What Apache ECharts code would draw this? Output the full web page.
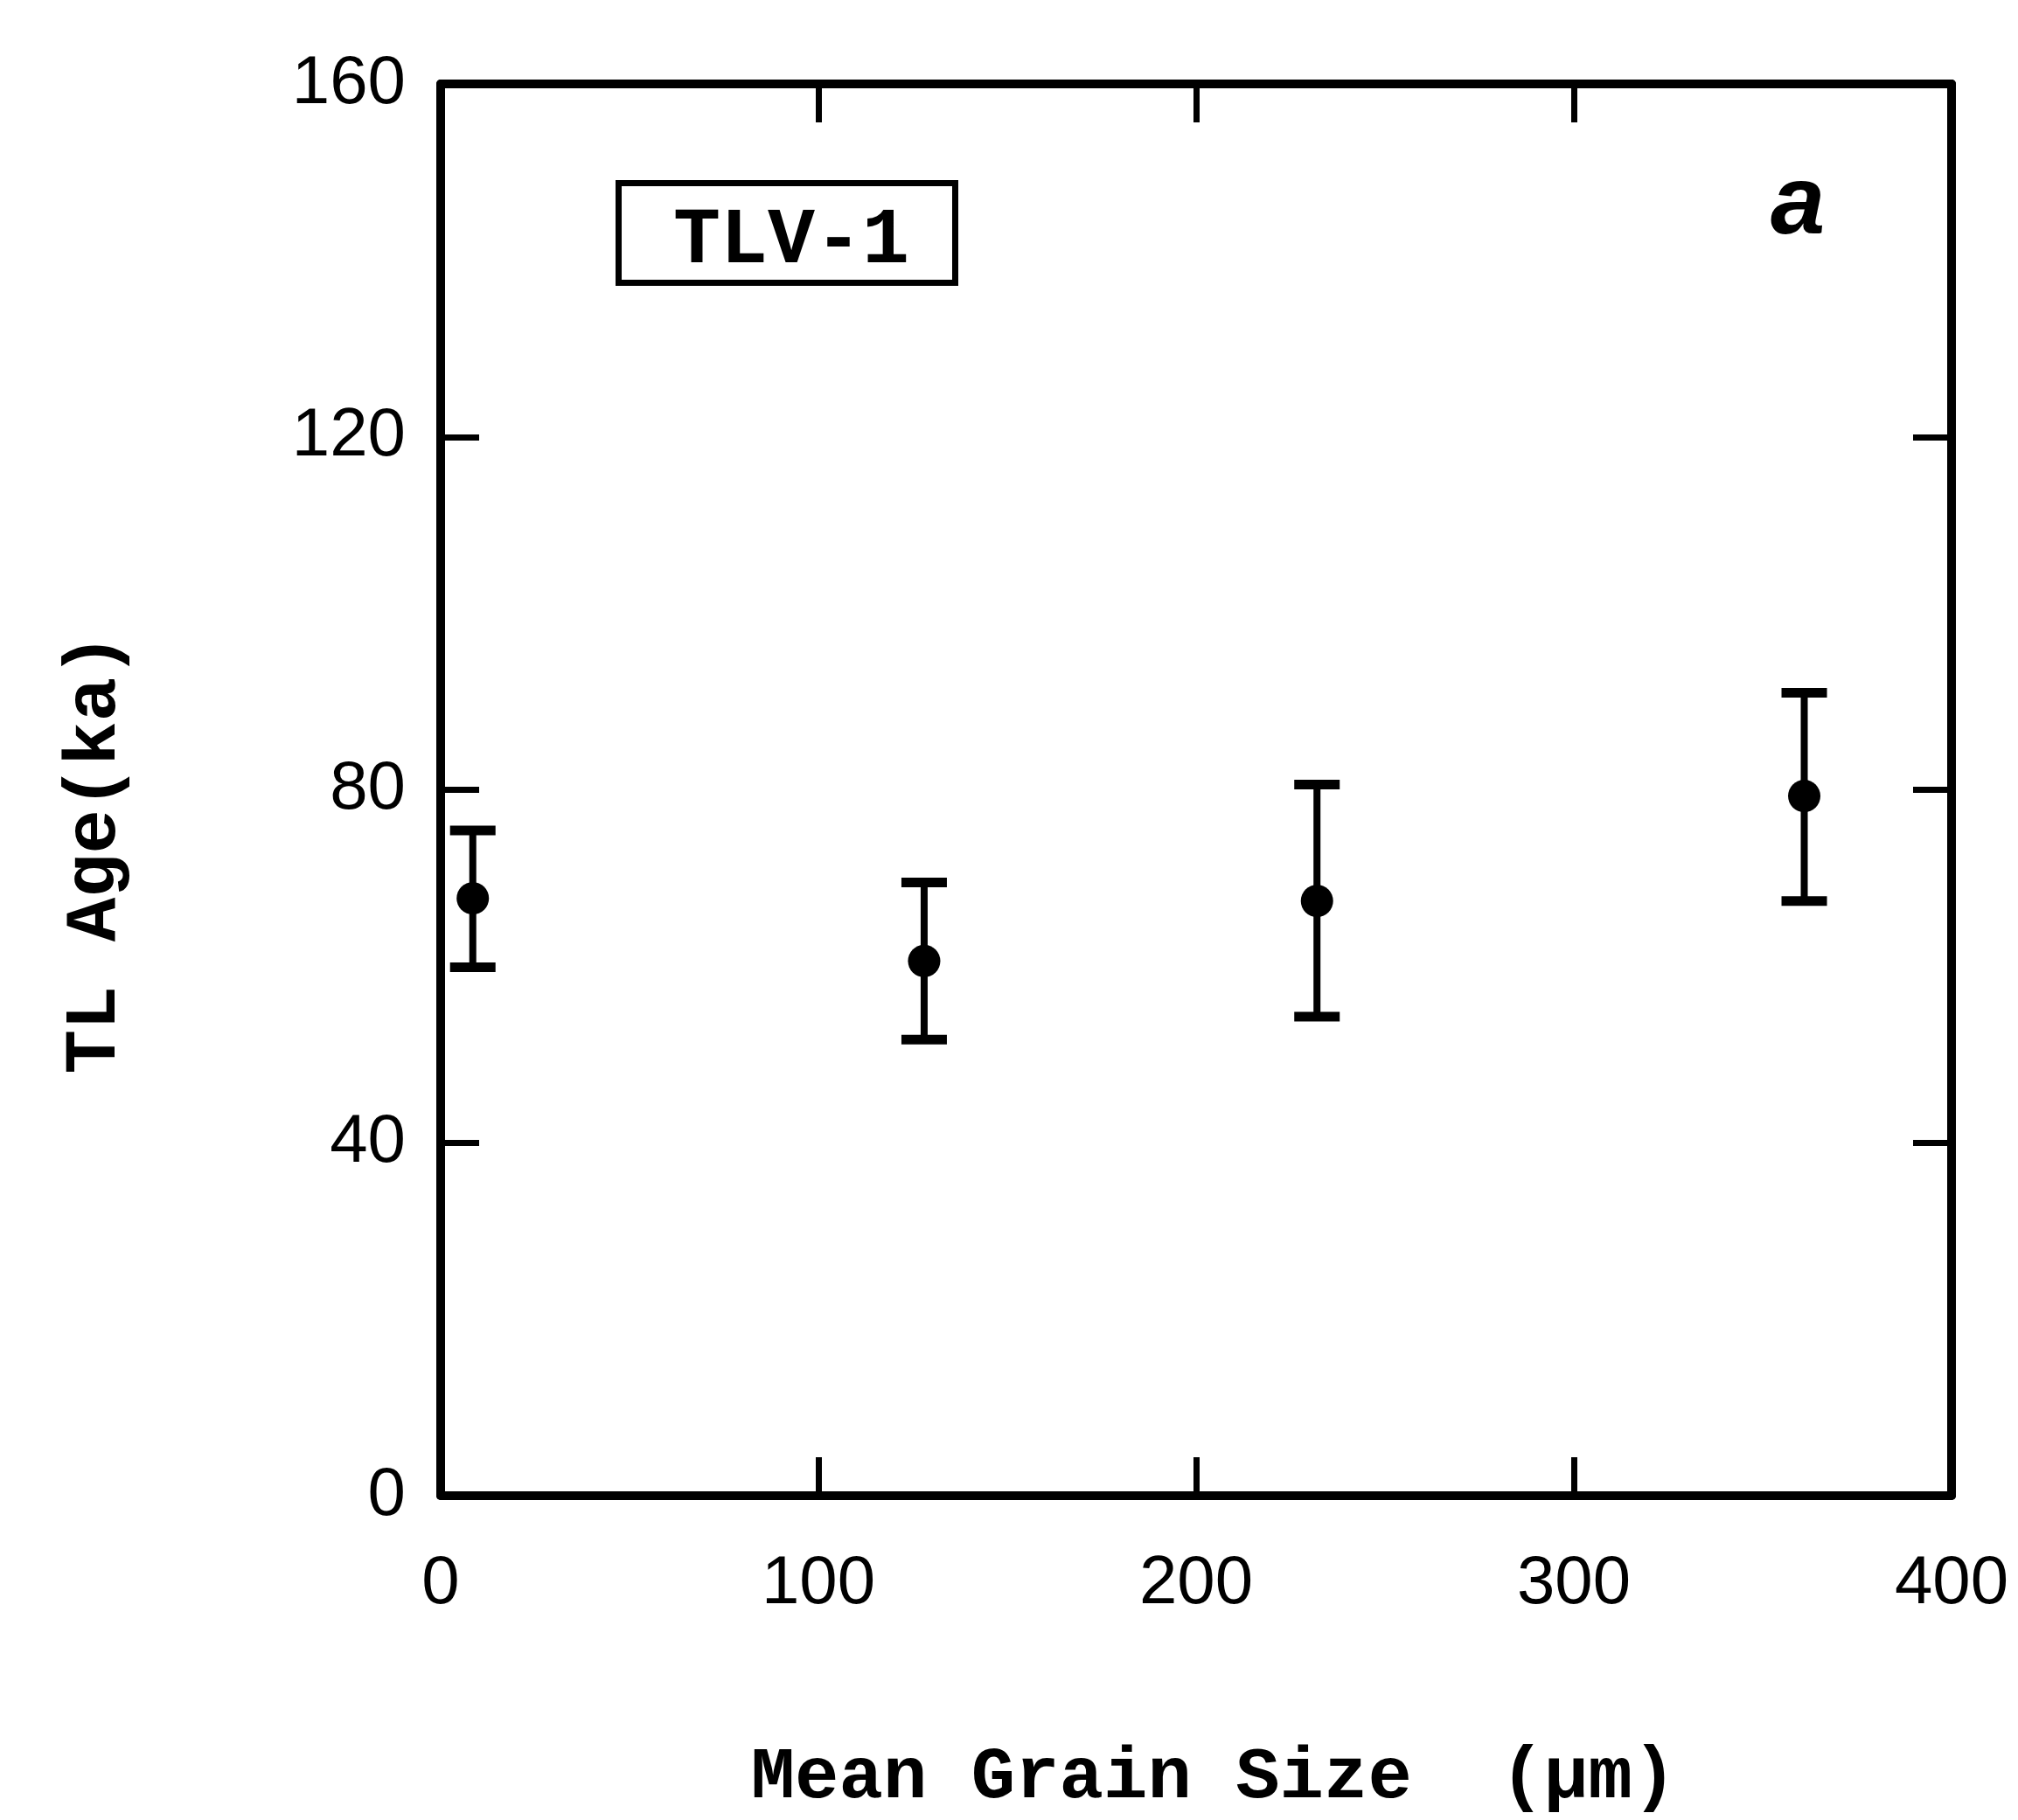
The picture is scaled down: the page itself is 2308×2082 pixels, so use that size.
<!DOCTYPE html>
<html>
<head>
<meta charset="utf-8">
<script src="https://cdn.jsdelivr.net/npm/echarts@6/dist/echarts.min.js"></script>
<style>
html,body{margin:0;padding:0;background:#fff;overflow:hidden;}
#chart{width:2308px;height:2082px;}
</style>
</head>
<body>
<div id="chart"></div>
<script>
// Data
const grainSize = [8.5, 128, 232, 361];        // Mean grain size (µm)
const tlAge     = [67.7, 60.6, 67.4, 79.3];    // TL age (ka)
const ageLow    = [59.9, 51.7, 54.3, 67.4];    // lower error bound
const ageHigh   = [75.4, 69.5, 80.6, 91.0];    // upper error bound
const xTicks = [0, 100, 200, 300, 400];
const yTicks = [0, 40, 80, 120, 160];
const sampleName = 'TLV-1';
const panelLetter = 'a';
const xTitle = 'Mean Grain Size  (\u03bcm)';
const yTitle = 'TL Age(ka)';

const points = grainSize.map((x, i) => [x, tlAge[i]]);
const errs = grainSize.map((x, i) => [x, ageLow[i], ageHigh[i]]);

const chart = echarts.init(document.getElementById('chart'), null, {renderer: 'canvas'});
const labelFont = {fontFamily: 'Liberation Sans', fontSize: 78, color: '#000'};
const monoFont = '"Liberation Mono", "DejaVu Sans Mono", monospace';

function axisBase(extra) {
  return Object.assign({
    type: 'value',
    axisLine: {show: true, onZero: false, lineStyle: {color: '#000', width: 10}},
    axisTick: {show: true, inside: true, length: 44, lineStyle: {color: '#000', width: 7}},
    splitLine: {show: false}
  }, extra);
}

const option = {
  backgroundColor: '#fff',
  animation: false,
  grid: {left: 504, right: 76, top: 96, bottom: 366, containLabel: false},
  xAxis: [
    axisBase({position: 'bottom', min: 0, max: 400, interval: 100,
      axisLabel: Object.assign({margin: 62, formatter: v => xTicks.includes(v) ? String(v) : ''}, labelFont),
      name: xTitle, nameLocation: 'middle', nameGap: 282,
      nameTextStyle: {fontFamily: monoFont, fontSize: 84, fontWeight: 'bold', color: '#000', padding: [0, 0, 0, 40]}}),
    axisBase({position: 'top', min: 0, max: 400, interval: 100, axisLabel: {show: false}})
  ],
  yAxis: [
    axisBase({position: 'left', min: 0, max: 160, interval: 40,
      axisLabel: Object.assign({margin: 40, formatter: v => yTicks.includes(v) ? String(v) : ''}, labelFont),
      name: yTitle, nameLocation: 'middle', nameGap: 352, nameRotate: 90,
      nameTextStyle: {fontFamily: monoFont, fontSize: 84, fontWeight: 'bold', color: '#000', padding: [0, 146, 0, 0]}}),
    axisBase({position: 'right', min: 0, max: 160, interval: 40, axisLabel: {show: false}})
  ],
  series: [
    {
      type: 'custom',
      data: errs,
      renderItem: function (params, api) {
        const x = api.value(0);
        const lo = api.coord([x, api.value(1)]);
        const hi = api.coord([x, api.value(2)]);
        const cw = 26;
        const st = {stroke: '#000', lineWidth: 8};
        const capSt = {stroke: '#000', lineWidth: 11};
        return {
          type: 'group',
          children: [
            {type: 'line', shape: {x1: lo[0], y1: lo[1], x2: hi[0], y2: hi[1]}, style: st},
            {type: 'line', shape: {x1: lo[0] - cw, y1: lo[1], x2: lo[0] + cw, y2: lo[1]}, style: capSt},
            {type: 'line', shape: {x1: hi[0] - cw, y1: hi[1], x2: hi[0] + cw, y2: hi[1]}, style: capSt}
          ]
        };
      },
      z: 3
    },
    {
      type: 'scatter',
      data: points,
      symbol: 'circle',
      symbolSize: 37,
      itemStyle: {color: '#000', opacity: 1},
      z: 4
    }
  ],
  graphic: [
    {type: 'rect', left: 704, top: 206, shape: {width: 385, height: 114},
     style: {fill: '#fff', stroke: '#000', lineWidth: 7}, z: 10},
    {type: 'text', left: 770, top: 232,
     style: {text: sampleName, font: 'bold 90px ' + monoFont, fill: '#000'}, z: 11},
    {type: 'text', left: 2025, top: 180,
     style: {text: panelLetter, font: 'italic bold 112px "Liberation Sans", sans-serif', fill: '#000'}, z: 11}
  ]
};
chart.setOption(option);
</script>
</body>
</html>
